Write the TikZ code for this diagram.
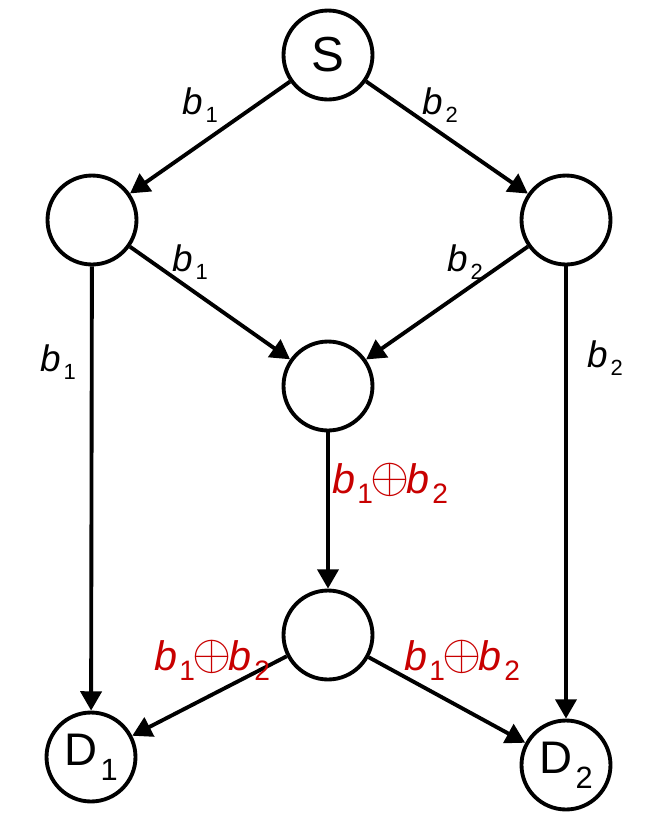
\documentclass[tikz,border=0pt]{standalone}
\usepackage{fontspec}
\usepackage{graphicx}
\setmainfont{Liberation Sans}
\usetikzlibrary{arrows.meta}
\definecolor{xorred}{RGB}{200,0,0}
\newcommand{\bsub}[1]{\textit{b}\kern0.08em\raisebox{-4.5pt}{\fontsize{12.5}{12.5}\selectfont #1}}
\newcommand{\rsub}[1]{\textit{b}\kern0.06em\raisebox{-5.7pt}{\fontsize{16}{16}\selectfont #1}}
\newcommand{\bxor}{\rsub{1}\kern-1.5pt\raisebox{0.5pt}{\scalebox{1.15}{$\oplus$}}\kern-1.5pt\rsub{2}}
\newcommand{\dsub}[1]{{\fontsize{26}{26}\selectfont D}\kern2pt\raisebox{-8.5pt}{\fontsize{17.5}{17.5}\selectfont #1}}

\begin{document}
\begin{tikzpicture}
	[x=0.02cm,y=-0.02cm,line width=2.2pt,>={Triangle[length=11pt,width=12pt]},
	vertex/.style={circle,draw,minimum size=1.78cm,inner sep=0pt,font=\fontsize{28}{28}\selectfont},
	lab/.style={inner sep=0pt,font=\fontsize{21}{21}\selectfont},
	xorlab/.style={inner sep=0pt,text=xorred,font=\fontsize{23.5}{23.5}\selectfont}]
	\useasboundingbox (0,0) rectangle (661,826);
	\node[vertex] (s) at (328,55) {S};
	\node[vertex] (l) at (92,220) {};
	\node[vertex] (r) at (566,220) {};
	\node[vertex] (m) at (328,386) {};
	\node[vertex] (x) at (328,635) {};
	\node[vertex] (d1) at (91,757) {\dsub{1}};
	\node[vertex] (d2) at (566,765) {\dsub{2}};
	
	\foreach \from/\to in {s/l,s/r,l/m,r/m,l/d1,r/d2,m/x,x/d1,x/d2}
	\draw[->] (\from) -- (\to);
	
	\node[lab] (sl) at (200,105) {\bsub{1}};
	\node[lab] (sr) at (440,105) {\bsub{2}};
	\node[lab] (lm) at (190,262) {\bsub{1}};
	\node[lab] (rm) at (465,262) {\bsub{2}};
	\node[lab] (ld) at (58,362) {\bsub{1}};
	\node[lab] (rd) at (605,358) {\bsub{2}};
	\node[xorlab] (mx) at (390,483) {\bxor};
	\node[xorlab] (xd1) at (212,660) {\bxor};
	\node[xorlab] (xd2) at (462,660) {\bxor};
\end{tikzpicture}
\end{document}
